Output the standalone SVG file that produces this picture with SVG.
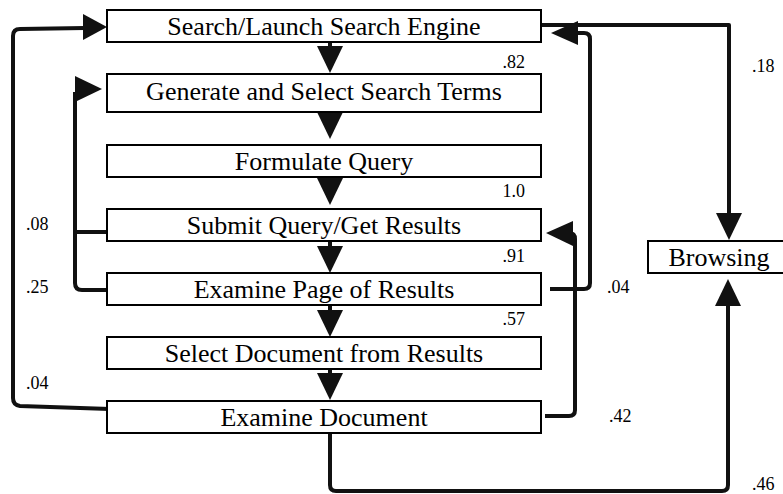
<svg xmlns="http://www.w3.org/2000/svg" width="783" height="494" viewBox="0 0 783 494">
  <style>
    .box { fill: #ffffff; stroke: #000000; stroke-width: 2; }
    .label { font-size: 26px; fill: #000000; text-anchor: middle; }
    .prob { font-size: 18px; fill: #000000; }
    .end { text-anchor: end; }
    .wire { fill: none; stroke: #111111; stroke-width: 4; stroke-linejoin: round; }
    .head { fill: #111111; }
  </style>
  <defs>
    <!-- downward arrowhead, tip at origin + 27 -->
    <polygon id="down" class="head" points="-13,0 13,0 0,27"/>
  </defs>

  <rect width="783" height="494" fill="#ffffff"/>

  <!-- connectors -->
  <g id="connectors">
    <!-- sequential flow down the main column -->
    <line class="wire" x1="330" y1="42" x2="330" y2="48"/>
    <use href="#down" x="330" y="46"/>
    <line class="wire" x1="330" y1="112" x2="330" y2="115"/>
    <use href="#down" x="330" y="112"/>
    <use href="#down" x="330" y="178"/>
    <line class="wire" x1="330" y1="241" x2="330" y2="249"/>
    <use href="#down" x="330" y="246"/>
    <line class="wire" x1="330" y1="305" x2="330" y2="312"/>
    <use href="#down" x="330" y="310"/>
    <line class="wire" x1="330" y1="369" x2="330" y2="375"/>
    <use href="#down" x="330" y="373"/>

    <!-- Examine Document back to Search (.04) -->
    <path class="wire" d="M110,409 L20,406 Q13,405 13,398 L13,36 Q13,29 20,29 L85,28"/>
    <polygon class="head" points="83,14 107,27 83,40"/>

    <!-- Submit Query / Examine Page back to Generate Terms (.08, .25) -->
    <path class="wire" d="M107,232 L75,232"/>
    <path class="wire" d="M107,290 L82,290 Q75,290 75,283 L75,92"/>
    <polygon class="head" points="75,76 102,89 75,102"/>

    <!-- Search to Browsing (.18) -->
    <path class="wire" d="M541,25 L729,25 L729,216"/>
    <polygon class="head" points="716,213 742,213 729,240"/>

    <!-- Examine Page back to Search (.04) -->
    <path class="wire" d="M550,289 L584,289 Q590,289 590,283 L590,39 Q590,33 584,33 L576,33"/>
    <polygon class="head" points="578,21 551,33 578,45"/>

    <!-- Examine Document back to Submit Query (.42) -->
    <path class="wire" d="M545,416 L569,416 Q575,416 575,410 L575,239 Q575,233 569,233 L571,233"/>
    <polygon class="head" points="573,221 546,233 573,246"/>

    <!-- Examine Document to Browsing (.46) -->
    <path class="wire" d="M330,433 L330,485 Q330,491 336,491 L722,491 Q728,491 728,485 L728,304"/>
    <polygon class="head" points="715,306 741,306 728,279"/>
  </g>

  <!-- nodes -->
  <g font-family="'Liberation Serif', 'Times New Roman', Times, serif">
    <g id="search-engine">
      <rect class="box" x="107" y="10" width="434" height="32"/>
      <text class="label" x="324" y="34.5">Search/Launch Search Engine</text>
    </g>
    <g id="generate-terms">
      <rect class="box" x="107" y="74" width="434" height="38"/>
      <text class="label" x="324" y="99.5">Generate and Select Search Terms</text>
    </g>
    <g id="formulate-query">
      <rect class="box" x="107" y="145" width="434" height="32"/>
      <text class="label" x="324" y="169.5">Formulate Query</text>
    </g>
    <g id="submit-query">
      <rect class="box" x="107" y="209" width="434" height="32"/>
      <text class="label" x="324" y="233.5">Submit Query/Get Results</text>
    </g>
    <g id="examine-page">
      <rect class="box" x="107" y="273" width="434" height="32"/>
      <text class="label" x="324" y="297.5">Examine Page of Results</text>
    </g>
    <g id="select-document">
      <rect class="box" x="107" y="337" width="434" height="32"/>
      <text class="label" x="324" y="361.5">Select Document from Results</text>
    </g>
    <g id="examine-document">
      <rect class="box" x="107" y="401" width="434" height="32"/>
      <text class="label" x="324" y="425.5">Examine Document</text>
    </g>
    <g id="browsing">
      <rect class="box" x="648" y="241" width="145" height="32"/>
      <text class="label" x="719" y="265.5">Browsing</text>
    </g>

    <!-- transition probabilities -->
    <g id="probabilities">
      <text class="prob end" x="525" y="68">.82</text>
      <text class="prob" x="752" y="72">.18</text>
      <text class="prob end" x="525" y="197">1.0</text>
      <text class="prob end" x="525" y="262">.91</text>
      <text class="prob end" x="525" y="325">.57</text>
      <text class="prob" x="607" y="293">.04</text>
      <text class="prob" x="609" y="422">.42</text>
      <text class="prob" x="752" y="490">.46</text>
      <text class="prob" x="26" y="230">.08</text>
      <text class="prob" x="26" y="293">.25</text>
      <text class="prob" x="26" y="389">.04</text>
    </g>
  </g>
</svg>
